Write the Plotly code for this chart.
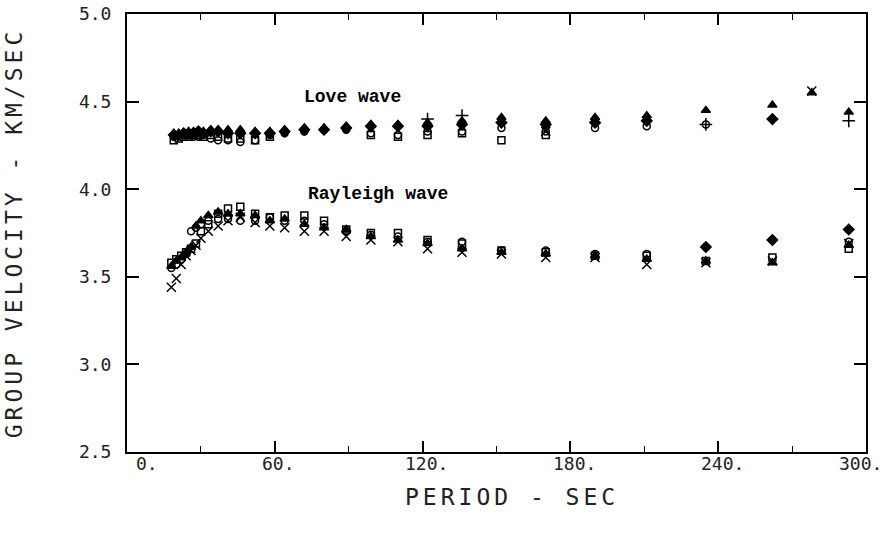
import plotly.graph_objects as go

# ---------------- data ----------------
love_period = [19, 21, 23, 25, 27, 29, 31, 34, 37, 41, 46, 52, 58, 64, 72, 80, 89, 99,
               110, 122, 136, 152, 170, 190, 211, 235, 262, 278, 293]
love_tri = [4.32, 4.32, 4.32, 4.33, 4.33, 4.33, 4.33, 4.34, 4.34, 4.34, 4.34, 4.33, 4.33, 4.34,
            4.35, 4.35, 4.36, 4.37, 4.37, 4.38, 4.39, 4.41, 4.39, 4.41, 4.42, 4.45, 4.48, 4.55, 4.44]
love_dia = [4.31, 4.31, 4.32, 4.32, 4.32, 4.33, 4.32, 4.33, 4.33, 4.32, 4.32, 4.32, 4.32, 4.33,
            4.34, 4.34, 4.35, 4.36, 4.36, 4.36, 4.37, 4.38, 4.37, 4.38, 4.39, None, 4.40, None, None]
love_circ = [4.30, 4.31, 4.31, 4.31, 4.30, 4.30, 4.31, 4.29, 4.28, 4.28, 4.27, 4.28, 4.31, 4.32,
             4.33, 4.34, 4.34, 4.32, 4.31, 4.33, 4.33, 4.35, 4.33, 4.35, 4.36, 4.37, None, None, None]
love_sq = [4.28, 4.29, 4.30, 4.30, 4.31, 4.31, 4.30, 4.31, 4.30, 4.29, 4.29, 4.28, 4.30, None,
           None, None, None, 4.31, 4.30, 4.31, 4.32, 4.28, 4.31, None, None, None, None, None, None]
love_plus = [None, None, None, None, None, None, None, None, None, None, None, None, None, None,
             None, None, None, None, None, 4.40, 4.42, None, None, None, None, 4.37, None, None, 4.39]
love_x = [None, None, None, None, None, None, None, None, None, None, None, None, None, None,
          None, None, None, None, None, None, None, None, 4.33, None, None, None, None, 4.56, None]

ray_period = [18, 20, 22, 24, 26, 28, 30, 33, 37, 41, 46, 52, 58, 64, 72, 80, 89, 99,
              110, 122, 136, 152, 170, 190, 211, 235, 262, 293]
ray_sq = [3.58, 3.60, 3.62, 3.64, 3.66, 3.69, 3.76, 3.80, 3.86, 3.89, 3.90, 3.86, 3.84, 3.85,
          3.85, 3.82, 3.77, 3.75, 3.75, 3.71, 3.69, 3.65, 3.64, 3.62, 3.62, 3.59, 3.61, 3.66]
ray_circ = [3.55, 3.57, 3.60, 3.63, 3.76, 3.78, 3.80, 3.82, 3.83, 3.83, 3.82, 3.82, 3.84, 3.82,
            3.82, 3.80, 3.76, 3.74, 3.73, 3.70, 3.70, 3.65, 3.65, 3.63, 3.63, 3.67, 3.71, 3.70]
ray_tri = [3.56, 3.59, 3.61, 3.64, 3.67, 3.79, 3.82, 3.85, 3.87, 3.86, 3.86, 3.85, 3.82, 3.83,
           3.80, 3.78, 3.77, 3.73, 3.71, 3.69, 3.66, 3.64, 3.63, 3.62, 3.60, 3.59, 3.58, 3.68]
ray_x = [3.44, 3.49, 3.57, 3.62, 3.65, 3.68, 3.72, 3.76, 3.79, 3.82, 3.84, 3.81, 3.79, 3.78,
         3.76, 3.76, 3.73, 3.71, 3.70, 3.66, 3.64, 3.63, 3.61, 3.61, 3.57, 3.58, 3.59, 3.69]
ray_dia = [None] * 25 + [3.67, 3.71, 3.77]

x_ticks = [0, 60, 120, 180, 240, 300]
x_ticktext = ["0.", "60.", "120.", "180.", "240.", "300."]
y_ticks = [2.5, 3.0, 3.5, 4.0, 4.5, 5.0]
y_ticktext = ["2.5", "3.0", "3.5", "4.0", "4.5", "5.0"]

# ---------------- figure ----------------
fig = go.Figure()

def add(xs, ys, symbol, size=8):
    fig.add_trace(go.Scatter(
        x=xs, y=ys, mode="markers", showlegend=False, hoverinfo="skip",
        marker=dict(symbol=symbol, size=size, color="black",
                    line=dict(color="black", width=1.5)),
    ))

add(love_period, love_sq, "square-open", 7)
add(love_period, love_circ, "circle-open", 7)
add(love_period, love_dia, "diamond")
add(love_period, love_tri, "triangle-up")
add(love_period, love_plus, "cross-thin-open", 9)
add(love_period, love_x, "x-thin-open", 9)

add(ray_period, ray_sq, "square-open", 7)
add(ray_period, ray_circ, "circle-open", 7)
add(ray_period, ray_tri, "triangle-up")
add(ray_period, ray_x, "x-thin-open", 9)
add(ray_period, ray_dia, "diamond")

tick_font = dict(family="DejaVu Sans Mono", size=18, color="#222")
title_font = dict(family="DejaVu Sans Mono", size=23, color="#222")

plot_l, plot_r, plot_t, plot_b = 127, 866, 14, 452

def px_x(px):
    return (px - plot_l) / (plot_r - plot_l)

def px_y(py):
    return (plot_b - py) / (plot_b - plot_t)

annotations = [
    dict(text='<span style="letter-spacing:4px">PERIOD - SEC</span>',
         x=px_x(512), y=px_y(497), font=title_font),
    dict(text="<b>Love wave</b>", x=px_x(352), y=px_y(97),
         font=dict(family="Liberation Mono", size=18, color="black")),
    dict(text="<b>Rayleigh wave</b>", x=px_x(378), y=px_y(194),
         font=dict(family="Liberation Mono", size=18, color="black")),
]
# x tick labels drawn as text at the axis positions
label_shift = {0: 20}
for v, t in zip(x_ticks, x_ticktext):
    a = dict(text=t, x=v, xref="x", y=px_y(463), font=tick_font,
             xshift=label_shift.get(v, 4), xanchor="center")
    if v == 300:
        a.update(xanchor="right", xshift=18)
    annotations.append(a)
for a in annotations:
    a.setdefault("xref", "paper")
    a.setdefault("yref", "paper")
    a.setdefault("xanchor", "center")
    a.update(showarrow=False, yanchor="middle")

fig.update_layout(
    width=886, height=541,
    margin=dict(l=plot_l, r=886 - plot_r, t=plot_t, b=541 - plot_b),
    plot_bgcolor="white", paper_bgcolor="white",
    xaxis=dict(
        range=[0, 300], tickvals=x_ticks, showticklabels=False, automargin=False,
        ticks="inside", ticklen=11, tickwidth=1.5, tickcolor="black",
        minor=dict(tickvals=[30, 90, 150, 210, 270], ticks="inside", ticklen=6,
                   tickwidth=1.2, tickcolor="black"),
        showline=True, linecolor="black", linewidth=2, mirror="ticks",
        showgrid=False, zeroline=False,
    ),
    yaxis=dict(
        range=[2.5, 5.0], tickvals=y_ticks, ticktext=y_ticktext, automargin=False,
        ticks="inside", ticklen=12, tickwidth=1.5, tickcolor="black",
        showline=True, linecolor="black", linewidth=2, mirror="ticks",
        showgrid=False, zeroline=False, tickfont=tick_font,
        ticklabelstandoff=10,
        title=dict(text='<span style="letter-spacing:4px">GROUP VELOCITY - KM/SEC</span>',
                   font=title_font, standoff=50),
    ),
    annotations=annotations,
)

fig.write_html("out.html")
